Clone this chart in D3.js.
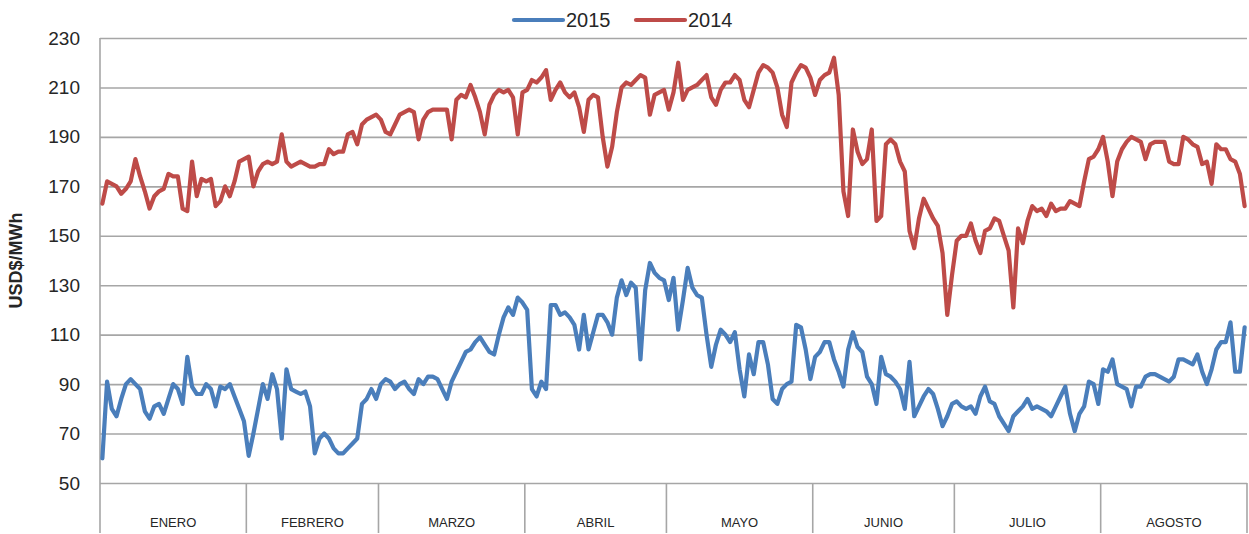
<!DOCTYPE html>
<html>
<head>
<meta charset="utf-8">
<script src="https://cdn.jsdelivr.net/npm/d3@7"></script>
<style>
  body { margin: 0; background: #fff; }
  svg { display: block; font-family: "Liberation Sans", Arial, sans-serif; }
</style>
</head>
<body>
<svg id="chart" width="1249" height="534"></svg>
<script>
const months = ["ENERO", "FEBRERO", "MARZO", "ABRIL", "MAYO", "JUNIO", "JULIO", "AGOSTO"];
const monthDays = [31, 28, 31, 30, 31, 30, 31, 31];
const yTicks = [50, 70, 90, 110, 130, 150, 170, 190, 210, 230];

// daily prices, 1 Jan .. 31 Aug
const values2014 = [
  163, 172, 171, 170, 167, 169, 172, 181, 174, 168, 161, 166, 168, 169, 175, 174,
  174, 161, 160, 180, 166, 173, 172, 173, 162, 164, 170, 166, 172, 180, 181,
  182, 170, 176, 179, 180, 179, 180, 191, 180, 178, 179, 180, 179, 178, 178,
  179, 179, 185, 183, 184, 184, 191, 192, 187, 195, 197, 198, 199,
  197, 192, 191, 195, 199, 200, 201, 200, 189, 197, 200, 201, 201, 201, 201, 189,
  205, 207, 206, 211, 206, 200, 191, 203, 207, 209, 208, 209, 206, 191, 208,
  209, 213, 212, 214, 217, 205, 209, 212, 208, 206, 208, 202, 192, 205, 207,
  206, 190, 178, 186, 200, 210, 212, 211, 213, 215, 214, 199, 207, 208, 209,
  201, 208, 220, 205, 209, 210, 211, 213, 215, 206, 203, 209, 212, 212, 215, 213,
  205, 202, 209, 216, 219, 218, 216, 210, 199, 194, 212, 216, 219, 218, 214,
  207, 213, 215, 216, 222, 207, 168, 158, 193, 184, 179, 181, 193, 156, 158,
  187, 189, 187, 180, 176, 152, 145, 157, 165, 161, 157, 154, 143, 118, 134,
  148, 150, 150, 155, 148, 143, 152, 153, 157, 156, 150, 144, 121, 153, 147, 156,
  162, 160, 161, 158, 163, 160, 161, 161, 164, 163, 162, 172, 181, 182, 185,
  190, 180, 166, 180, 185, 188, 190, 189, 188, 181, 187, 188, 188, 188, 180, 179,
  179, 190, 189, 187, 186, 179, 180, 171, 187, 185, 185, 181, 180, 175, 162
];

const values2015 = [
  60, 91, 80, 77, 84, 90, 92, 90, 88, 79, 76, 81, 82, 78, 84, 90,
  88, 82, 101, 89, 86, 86, 90, 88, 81, 89, 88, 90, 85, 80, 75,
  61, 70, 80, 90, 84, 94, 88, 68, 96, 88, 87, 86, 87, 81, 62,
  68, 70, 68, 64, 62, 62, 64, 66, 68, 82, 84, 88, 84,
  90, 92, 91, 88, 90, 91, 88, 86, 92, 90, 93, 93, 92, 88, 84, 91,
  95, 99, 103, 104, 107, 109, 106, 103, 102, 110, 117, 121, 118, 125, 123,
  120, 88, 85, 91, 88, 122, 122, 118, 119, 117, 114, 104, 118, 104, 111,
  118, 118, 115, 110, 125, 132, 126, 131, 129, 100, 128, 139, 135, 133, 132,
  124, 133, 112, 124, 137, 129, 126, 125, 110, 97, 106, 112, 110, 107, 111, 96,
  85, 102, 94, 107, 107, 98, 84, 82, 88, 90, 91, 114, 113, 104, 92,
  101, 103, 107, 107, 100, 95, 89, 104, 111, 105, 103, 93, 90, 82, 101,
  94, 93, 91, 88, 80, 99, 77, 81, 85, 88, 86, 80, 73, 77, 82,
  83, 81, 80, 81, 78, 85, 89, 83, 82, 77, 74, 71, 77, 79, 81, 84,
  80, 81, 80, 79, 77, 81, 85, 89, 78, 71, 78, 81, 91, 90, 82,
  96, 95, 100, 90, 89, 88, 81, 89, 89, 93, 94, 94, 93, 92, 91, 93,
  100, 100, 99, 98, 102, 95, 90, 96, 104, 107, 107, 115, 95, 95, 113
];

const series = [
  { name: "2015", values: values2015, color: "#4a7ebb" },
  { name: "2014", values: values2014, color: "#be4b48" }
];

const svg = d3.select("#chart");
const plotLeft = 100, plotRight = 1247, plotTop = 38, plotBottom = 483, axisBottom = 533;
const totalDays = d3.sum(monthDays);

const x = d3.scaleLinear().domain([0, totalDays]).range([plotLeft, plotRight]);
const y = d3.scaleLinear().domain([50, 230]).range([plotBottom, plotTop]);

// gridlines + y labels
const yAxis = svg.append("g")
  .attr("transform", "translate(" + plotLeft + ",0)")
  .call(d3.axisLeft(y).tickValues(yTicks).tickSize(-(plotRight - plotLeft)).tickPadding(20));
yAxis.select(".domain").remove();
yAxis.selectAll(".tick line")
  .attr("stroke", "#a6a6a6")
  .attr("stroke-width", 1.6);
yAxis.selectAll(".tick text")
  .attr("fill", "#262626")
  .attr("font-size", "19px");

svg.append("text")
  .attr("transform", "translate(22," + (plotTop + plotBottom) / 2 + ") rotate(-90)")
  .attr("text-anchor", "middle")
  .attr("font-size", "18px")
  .attr("font-weight", "bold")
  .attr("fill", "#262626")
  .text("USD$/MWh");

// category axis
const monthStarts = monthDays.map((d, i) => d3.sum(monthDays.slice(0, i)));
const boundaries = monthStarts.concat([totalDays]);

svg.append("line")
  .attr("x1", plotLeft).attr("x2", plotLeft)
  .attr("y1", plotTop).attr("y2", axisBottom)
  .attr("stroke", "#a6a6a6")
  .attr("stroke-width", 1.6);

svg.selectAll(".month-sep")
  .data(boundaries.slice(1))
  .enter()
  .append("line")
  .attr("class", "month-sep")
  .attr("x1", d => x(d)).attr("x2", d => x(d))
  .attr("y1", plotBottom).attr("y2", axisBottom)
  .attr("stroke", "#a6a6a6")
  .attr("stroke-width", 1.6);

svg.selectAll(".month-label")
  .data(months)
  .enter()
  .append("text")
  .attr("class", "month-label")
  .attr("x", (d, i) => x(monthStarts[i] + monthDays[i] / 2))
  .attr("y", 527)
  .attr("text-anchor", "middle")
  .attr("font-size", "13px")
  .attr("fill", "#262626")
  .text(d => d);

// lines
const line = d3.line()
  .x((d, i) => x(i + 0.5))
  .y(d => y(d));

svg.selectAll(".series")
  .data(series)
  .enter()
  .append("path")
  .attr("class", "series")
  .attr("d", d => line(d.values))
  .attr("fill", "none")
  .attr("stroke", d => d.color)
  .attr("stroke-width", 4.2)
  .attr("stroke-linejoin", "round")
  .attr("stroke-linecap", "round");

// legend
const legendX = [514, 636];
const legend = svg.selectAll(".legend")
  .data(series)
  .enter()
  .append("g")
  .attr("class", "legend")
  .attr("transform", (d, i) => "translate(" + legendX[i] + ",20)");

legend.append("line")
  .attr("x1", 0).attr("x2", 49)
  .attr("stroke", d => d.color)
  .attr("stroke-width", 4.2)
  .attr("stroke-linecap", "round");

legend.append("text")
  .attr("x", 52)
  .attr("y", 7)
  .attr("font-size", "20px")
  .attr("fill", "#262626")
  .text(d => d.name);
</script>
</body>
</html>
